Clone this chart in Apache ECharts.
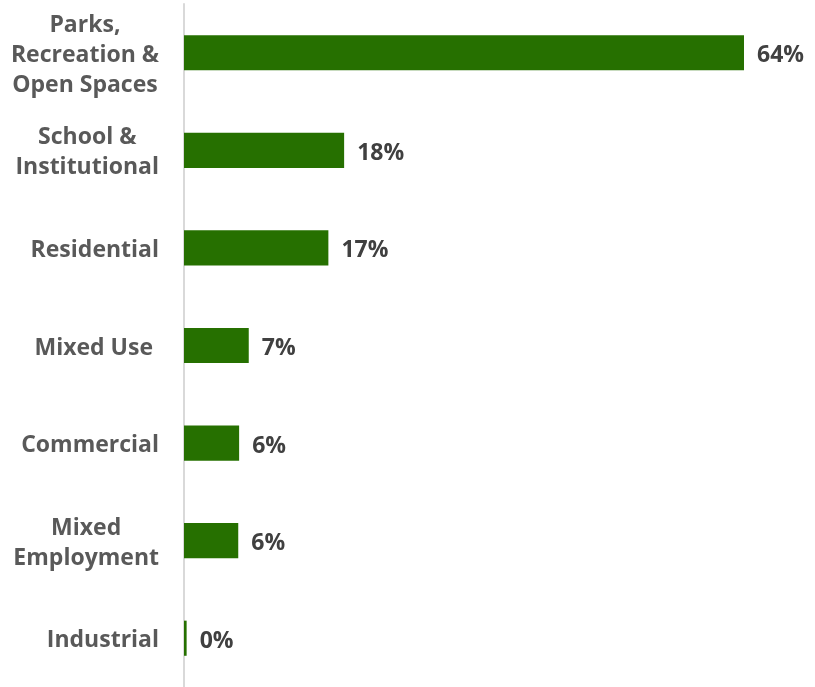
<!DOCTYPE html>
<html>
<head>
<meta charset="utf-8">
<script src="https://cdn.jsdelivr.net/npm/echarts@6/dist/echarts.min.js"></script>
<style>
  html, body { margin: 0; padding: 0; background: #fff; }
  #chart { width: 815px; height: 687px; }
</style>
</head>
<body>
<div id="chart"></div>
<script>
// categories top to bottom
const categories = [
  'Parks,\nRecreation &\nOpen Spaces',
  'School &\nInstitutional',
  'Residential',
  'Mixed Use ',
  'Commercial',
  'Mixed\nEmployment',
  'Industrial'
]
// share of land use (%)
const shares = [64.0, 18.3, 16.5, 7.4, 6.3, 6.2, 0.3]
// labels printed next to bars
const shareLabels = ['64%', '18%', '17%', '7%', '6%', '6%', '0%']

const chart = echarts.init(document.getElementById('chart'))

chart.setOption({
  animation: false,
  grid: {
    left: 184,
    right: 18.5,
    top: 4,
    bottom: -3,
    containLabel: false
  },
  xAxis: {
    type: 'value',
    min: 0,
    max: 70,
    show: false
  },
  yAxis: {
    type: 'category',
    inverse: true,
    data: categories,
    axisLine: { show: true, lineStyle: { color: '#d9d9d9', width: 2 } },
    axisTick: { show: false },
    axisLabel: {
      margin: 25,
      padding: [5, 0, 0, 0],
      formatter: (value) => value.split('\n').map(line => '{c|' + line + '}').join('\n'),
      rich: {
        c: {
          align: 'center',
          fontFamily: 'Open Sans',
          fontWeight: 'bold',
          fontSize: 23,
          lineHeight: 30,
          color: '#595959'
        }
      }
    }
  },
  series: [
    {
      type: 'bar',
      data: shares,
      barCategoryGap: '64%',
      itemStyle: { color: '#267000' },
      label: {
        show: true,
        position: 'right',
        distance: 13,
        offset: [0, 3],
        formatter: (p) => shareLabels[p.dataIndex],
        fontFamily: 'Open Sans',
        fontWeight: 'bold',
        fontSize: 23,
        color: '#404040'
      }
    }
  ]
})
</script>
</body>
</html>
